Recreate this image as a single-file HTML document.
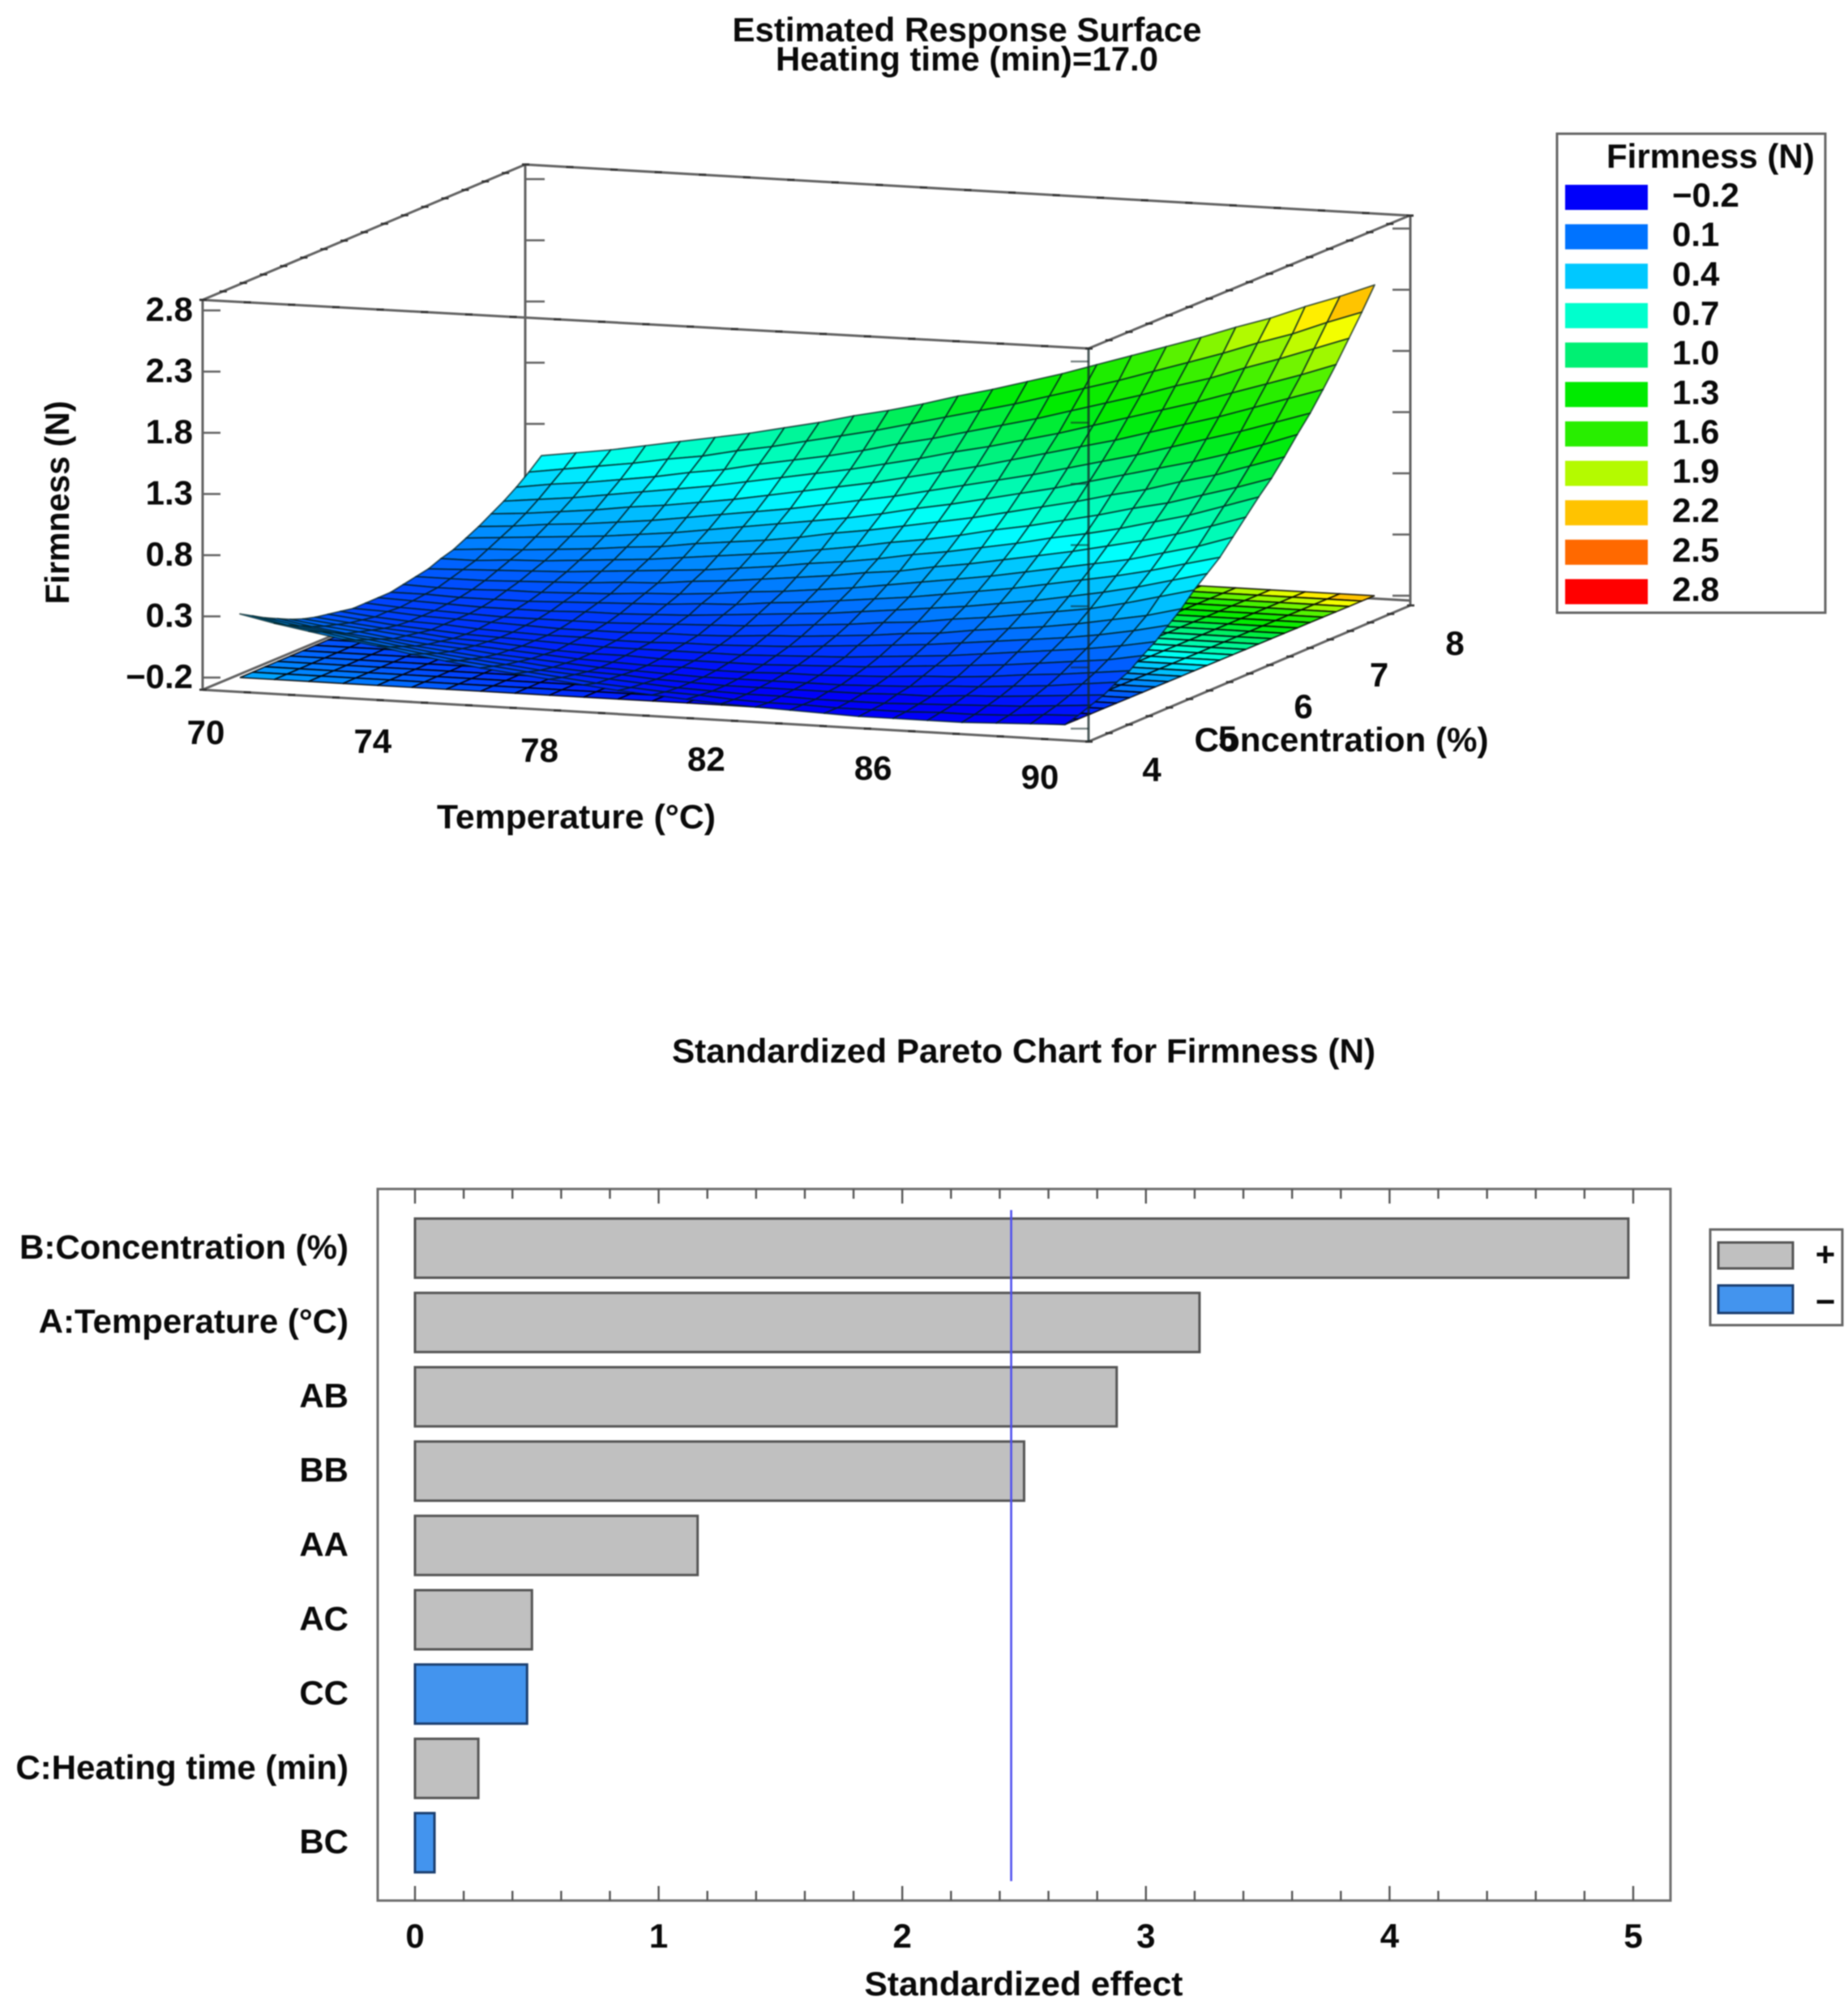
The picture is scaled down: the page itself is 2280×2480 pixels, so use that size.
<!DOCTYPE html>
<html lang="en">
<head>
<meta charset="utf-8">
<title>Estimated Response Surface and Standardized Pareto Chart</title>
<style>
html,body{margin:0;padding:0;background:#fff;width:2280px;height:2480px;overflow:hidden}
svg{display:block;filter:blur(0.7px)}
text{font-family:"Liberation Sans",Arial,sans-serif;font-weight:bold;font-size:42px;fill:#0a0a0a}
</style>
</head>
<body>
<svg id="figure" xmlns="http://www.w3.org/2000/svg" width="2280" height="2480" viewBox="0 0 2280 2480">
  <rect x="0" y="0" width="2280" height="2480" fill="#fff"/>
  <g id="surface-chart">
    <text x="1193" y="51" text-anchor="middle" textLength="579" lengthAdjust="spacingAndGlyphs">Estimated Response Surface</text>
    <text x="1193" y="87" text-anchor="middle" textLength="472" lengthAdjust="spacingAndGlyphs">Heating time (min)=17.0</text>
    <g id="box-back"></g>
    <g id="floor"></g>
    <g id="surface"></g>
    <g id="box-front"></g>
    <g id="axis-labels"></g>
    <text transform="translate(85,620) rotate(-90)" text-anchor="middle" textLength="251" lengthAdjust="spacingAndGlyphs">Firmness (N)</text>
    <text x="711" y="1022" text-anchor="middle" textLength="344" lengthAdjust="spacingAndGlyphs">Temperature (°C)</text>
    <text x="1655" y="927" text-anchor="middle" textLength="363" lengthAdjust="spacingAndGlyphs">Concentration (%)</text>
    <g id="surface-legend">
      <rect x="1921" y="165" width="331" height="591" fill="#fff" stroke="#666" stroke-width="3"/>
      <text x="1982" y="207">Firmness (N)</text>
    </g>
  </g>
  <g id="pareto-chart">
    <text x="1263" y="1311" text-anchor="middle" textLength="868" lengthAdjust="spacingAndGlyphs">Standardized Pareto Chart for Firmness (N)</text>
    <rect x="466" y="1467" width="1595" height="878" fill="#fff" stroke="#6e6e6e" stroke-width="3"/>
    <g id="pareto-ticks"></g>
    <g id="pareto-bars"></g>
    <g id="pareto-labels"></g>
    <text x="1263" y="2462" text-anchor="middle" textLength="393" lengthAdjust="spacingAndGlyphs">Standardized effect</text>
    <g>
      <rect x="2110" y="1517" width="163" height="118" fill="#fff" stroke="#666" stroke-width="3"/>
      <rect x="2120" y="1533" width="92" height="32" fill="#c0c0c0" stroke="#555" stroke-width="3"/>
      <text x="2252" y="1562" text-anchor="middle">+</text>
      <rect x="2120" y="1586" width="92" height="34" fill="#4394ee" stroke="#1c3f70" stroke-width="3"/>
      <text x="2252" y="1620" text-anchor="middle">−</text>
    </g>
  </g>
</svg>
<script>
// ---- Response surface data: firmness at each node, rows = concentration 4..8, columns = temperature 70..90
const surfaceZ = [
[.32,.26,.21,.16,.12,.07,.03,-.01,-.04,-.07,-.10,-.13,-.15,-.17,-.19,-.20,-.21,-.22,-.23,-.23,-.23,-.23,-.22,-.21,-.20],
[.26,.20,.16,.11,.07,.03,-.01,-.04,-.07,-.10,-.13,-.15,-.17,-.18,-.20,-.21,-.21,-.22,-.22,-.22,-.21,-.21,-.20,-.18,-.17],
[.20,.15,.11,.07,.03,-.01,-.04,-.07,-.10,-.12,-.14,-.16,-.18,-.19,-.20,-.20,-.21,-.21,-.21,-.20,-.19,-.18,-.17,-.15,-.13],
[.15,.10,.06,.03,-.01,-.04,-.07,-.09,-.12,-.14,-.15,-.17,-.18,-.19,-.19,-.19,-.19,-.19,-.18,-.18,-.16,-.15,-.13,-.11,-.09],
[.10,.06,.03,-.01,-.04,-.06,-.09,-.11,-.13,-.15,-.16,-.17,-.18,-.18,-.18,-.18,-.18,-.17,-.16,-.14,-.13,-.11,-.09,-.06,-.03],
[.06,.03,.00,-.03,-.06,-.08,-.10,-.12,-.14,-.15,-.16,-.16,-.17,-.17,-.16,-.16,-.15,-.14,-.12,-.11,-.09,-.06,-.04,-.01,.02],
[.03,.00,-.03,-.05,-.08,-.09,-.11,-.13,-.14,-.14,-.15,-.15,-.15,-.15,-.14,-.13,-.12,-.10,-.08,-.06,-.04,-.01,.02,.05,.10],
[.01,-.02,-.05,-.07,-.09,-.10,-.11,-.12,-.13,-.13,-.13,-.13,-.13,-.12,-.11,-.10,-.08,-.06,-.04,-.01,.02,.05,.08,.12,.17],
[-.01,-.04,-.06,-.07,-.09,-.10,-.11,-.11,-.12,-.12,-.11,-.11,-.10,-.09,-.07,-.05,-.03,-.01,.02,.05,.08,.11,.15,.20,.26],
[-.03,-.04,-.06,-.07,-.08,-.09,-.10,-.10,-.10,-.09,-.09,-.08,-.06,-.05,-.03,-.01,.02,.04,.08,.11,.14,.18,.23,.28,.35],
[-.03,-.05,-.06,-.07,-.08,-.08,-.08,-.08,-.07,-.06,-.05,-.04,-.02,.00,.02,.05,.07,.11,.14,.18,.22,.26,.32,.39,.46],
[-.03,-.04,-.05,-.06,-.06,-.06,-.05,-.05,-.04,-.03,-.01,.01,.03,.05,.08,.11,.14,.17,.21,.25,.30,.35,.41,.48,.55],
[-.03,-.03,-.04,-.04,-.04,-.03,-.02,-.01,.00,.02,.03,.06,.08,.11,.14,.17,.21,.25,.29,.34,.39,.44,.50,.57,.64],
[-.01,-.02,-.02,-.01,-.01,.00,.01,.03,.04,.06,.09,.11,.14,.17,.21,.25,.29,.33,.38,.43,.48,.53,.60,.67,.76],
[.01,.01,.01,.02,.03,.04,.06,.07,.10,.12,.15,.18,.21,.25,.28,.33,.37,.42,.47,.52,.58,.64,.71,.79,.88],
[.03,.04,.05,.06,.07,.09,.11,.13,.15,.18,.21,.25,.28,.32,.37,.41,.46,.51,.57,.62,.68,.75,.82,.91,1.00],
[.07,.07,.09,.10,.12,.14,.16,.19,.22,.25,.28,.32,.36,.41,.45,.50,.56,.61,.67,.73,.80,.86,.94,1.02,1.11],
[.10,.12,.13,.15,.17,.20,.22,.26,.29,.32,.36,.41,.45,.50,.55,.60,.66,.72,.78,.85,.91,.99,1.06,1.15,1.24],
[.15,.17,.19,.21,.23,.26,.29,.33,.37,.41,.45,.49,.54,.60,.65,.71,.77,.83,.90,.97,1.04,1.11,1.19,1.28,1.38],
[.20,.22,.25,.27,.30,.33,.37,.41,.45,.49,.54,.59,.64,.70,.76,.82,.88,.95,1.02,1.09,1.17,1.25,1.33,1.42,1.51],
[.26,.28,.31,.34,.38,.41,.45,.49,.54,.59,.64,.69,.75,.81,.87,.94,1.01,1.08,1.15,1.23,1.31,1.39,1.48,1.57,1.66],
[.32,.35,.38,.42,.46,.50,.54,.59,.64,.69,.74,.80,.86,.93,.99,1.06,1.13,1.21,1.29,1.37,1.45,1.54,1.63,1.72,1.82],
[.39,.43,.46,.50,.54,.59,.63,.69,.74,.79,.85,.92,.98,1.05,1.12,1.19,1.27,1.35,1.43,1.52,1.60,1.70,1.79,1.89,1.99],
[.47,.51,.55,.59,.64,.68,.74,.79,.85,.91,.97,1.04,1.11,1.18,1.25,1.33,1.41,1.49,1.58,1.67,1.76,1.86,1.95,2.06,2.16],
[.56,.60,.64,.69,.74,.79,.84,.90,.96,1.03,1.09,1.16,1.24,1.31,1.39,1.47,1.56,1.65,1.74,1.83,1.93,2.02,2.13,2.23,2.34]
];
const zTicks = [-0.2, 0.3, 0.8, 1.3, 1.8, 2.3, 2.8];
const tempTicks = [70, 74, 78, 82, 86, 90];
const concTicks = [4, 5, 6, 7, 8];
const legendLevels = [-0.2, 0.1, 0.4, 0.7, 1.0, 1.3, 1.6, 1.9, 2.2, 2.5, 2.8];

// ---- Pareto data
const categories = ["B:Concentration (%)", "A:Temperature (°C)", "AB", "BB", "AA", "AC", "CC", "C:Heating time (min)", "BC"];
const effects = [4.98, 3.22, 2.88, 2.50, 1.16, 0.48, 0.46, 0.26, 0.08];
const signs = ["+", "+", "+", "+", "+", "+", "-", "+", "-"];
const paretoTicks = [0, 1, 2, 3, 4, 5];
const significance = 2.447;

const NS = 'http://www.w3.org/2000/svg';
function make(tag, parent, attrs, txt) {
  const e = document.createElementNS(NS, tag);
  for (const k in attrs) e.setAttribute(k, attrs[k]);
  if (txt !== undefined) e.textContent = txt;
  parent.appendChild(e);
  return e;
}
function $(id) { return document.getElementById(id); }

// ---- 3D axis functions
const NL = [296, 836], FL = [668, 677], NR = [1314, 894], FR = [1696, 735];
const Z_BASE = -0.2, Z_PX = 151;
function project(t, c, z) {
  const x = (1-t)*(1-c)*NL[0] + t*(1-c)*NR[0] + (1-t)*c*FL[0] + t*c*FR[0];
  const y = (1-t)*(1-c)*NL[1] + t*(1-c)*NR[1] + (1-t)*c*FL[1] + t*c*FR[1];
  return [x, y - (z - Z_BASE) * Z_PX];
}
const zLabelY = v => 849 - (v - Z_BASE) * Z_PX;
const zTickY = v => 836 - (v - Z_BASE) * Z_PX;
const tempLabelX = v => 254 + (v - 70) / 20 * 1029;
const tempLabelY = v => 918 + (v - 70) / 20 * 55;
const concLabelX = v => 1421 + (v - 4) * 93.5;
const concLabelY = v => 964 - (v - 4) * 39;

const colorRamp = [
  [-0.25,0,0,250],[-0.2,0,0,250],[-0.1,0,45,255],[0.1,0,115,255],[0.25,0,160,255],[0.4,0,200,255],[0.55,0,255,255],[0.7,0,255,205],
  [1.0,0,240,115],[1.3,0,235,0],[1.6,40,238,0],[1.9,180,250,0],[2.05,255,255,0],[2.2,255,195,0],[2.5,255,105,0],[2.8,255,0,0]
];
function colorOf(v) {
  for (let k = 1; k < colorRamp.length; k++) {
    if (v <= colorRamp[k][0]) {
      const a = colorRamp[k-1], b = colorRamp[k], f = (v - a[0]) / (b[0] - a[0]);
      return 'rgb(' + [1,2,3].map(n => Math.round(a[n] + (b[n]-a[n]) * Math.max(0,f))).join(',') + ')';
    }
  }
  return 'rgb(255,0,0)';
}

// ---- Box edges and ticks
const GRAY = '#626262';
const backEdges = [
  [250,370,648,203],[648,203,1739,266],[1343,430,1739,266],[250,370,1343,430],
  [648,203,648,685],[1740,266,1740,747],[250,370,250,851],[250,851,1343,915],
  [1343,915,1740,747],[250,851,648,685],[648,680,1740,741]
];
backEdges.forEach(a => {
  const l = make('line', $('box-back'), {x1:a[0],y1:a[1],x2:a[2],y2:a[3],stroke:GRAY,'stroke-width':3});
  
  
});
function edgeTicks(x1, y1, x2, y2, n, parent) {
  for (let k = 0; k <= n; k++) {
    const f = k / n, x = x1 + (x2-x1)*f, y = y1 + (y2-y1)*f;
    const t = make('line', parent, {x1:x-4,y1:y,x2:x+5,y2:y,stroke:'#333','stroke-width':2.6});
    
    
  }
}
edgeTicks(250,370,1343,430,20,$('box-back'));
edgeTicks(648,203,1739,266,20,$('box-back'));
edgeTicks(250,370,648,203,16,$('box-back'));
edgeTicks(1343,430,1739,266,16,$('box-back'));
edgeTicks(250,851,1343,915,20,$('box-back'));
edgeTicks(1343,915,1740,747,16,$('box-back'));
zTicks.forEach(v => {
  const y = zTickY(v);
  const a = make('line', $('box-back'), {x1:250,y1:y,x2:272,y2:y,stroke:GRAY,'stroke-width':2.4});
  
  
  const b = make('line', $('box-back'), {x1:648,y1:y-162,x2:672,y2:y-162,stroke:GRAY,'stroke-width':2.4});
  
  
  const c = make('line', $('box-back'), {x1:1718,y1:y-101,x2:1740,y2:y-101,stroke:GRAY,'stroke-width':2.4});
  
  
});

// ---- Floor contour and surface mesh
const rows = surfaceZ.length - 1, cols = surfaceZ[0].length - 1;
function cellMean(i, j) {
  return (surfaceZ[j][i] + surfaceZ[j][i+1] + surfaceZ[j+1][i] + surfaceZ[j+1][i+1]) / 4;
}
for (let j = rows - 1; j >= 0; j--) {
  for (let i = 0; i < cols; i++) {
    const pts = [[i,j],[i+1,j],[i+1,j+1],[i,j+1]].map(n => project(n[0]/cols, n[1]/rows, Z_BASE).map(q => q.toFixed(1)).join(',')).join(' ');
    const cell = make('polygon', $('floor'), {points:pts, fill:colorOf(cellMean(i,j)), stroke:'rgba(0,0,0,.8)', 'stroke-width':1.8});
    
    
  }
}
for (let j = rows - 1; j >= 0; j--) {
  for (let i = 0; i < cols; i++) {
    const pts = [[i,j],[i+1,j],[i+1,j+1],[i,j+1]].map(n => project(n[0]/cols, n[1]/rows, surfaceZ[n[1]][n[0]]).map(q => q.toFixed(1)).join(',')).join(' ');
    const cell = make('polygon', $('surface'), {points:pts, fill:colorOf(cellMean(i,j)), stroke:'rgba(0,30,30,.72)', 'stroke-width':1.8, 'stroke-linejoin':'round'});
    
    
  }
}

// ---- Front vertical edge over the surface
const frontEdge = make('line', $('box-front'), {x1:1343,y1:430,x2:1343,y2:915,stroke:'rgba(20,40,40,.75)','stroke-width':3});


zTicks.forEach(v => {
  const y = zTickY(v) + 63;
  const t = make('line', $('box-front'), {x1:1321,y1:y,x2:1343,y2:y,stroke:'rgba(20,40,40,.6)','stroke-width':2.2});
  
  
});

// ---- Axis tick labels
zTicks.forEach(v => {
  const s = (v < 0 ? '−' : '') + Math.abs(v).toFixed(1);
  const t = make('text', $('axis-labels'), {x:238, y:zLabelY(v), 'text-anchor':'end'}, s);
  
  
});
tempTicks.forEach(v => {
  const t = make('text', $('axis-labels'), {x:tempLabelX(v), y:tempLabelY(v), 'text-anchor':'middle'}, String(v));
  
  
});
concTicks.forEach(v => {
  const t = make('text', $('axis-labels'), {x:concLabelX(v), y:concLabelY(v), 'text-anchor':'middle'}, String(v));
  
  
});

// ---- Surface legend
legendLevels.forEach((v, k) => {
  const y = 228 + k * 48.65;
  const s = make('rect', $('surface-legend'), {x:1931, y:y, width:102, height:31, fill:colorOf(v)});
  
  
  const t = make('text', $('surface-legend'), {x:2063, y:y + 27}, (v < 0 ? '−' : '') + Math.abs(v).toFixed(1));
  
  
});

// ---- Pareto chart
const xScale = v => 512 + v * 300.6;
const bandCenter = k => 1540 + k * 91.7;
const BAR_H = 73;
const PT = 1467, PB = 2345;
for (let m = 0; m <= 25; m++) {
  const v = m / 5, x = xScale(v), len = m % 5 === 0 ? 18 : 12;
  const a = make('line', $('pareto-ticks'), {x1:x,y1:PT,x2:x,y2:PT+len,stroke:'#555','stroke-width':2.4});
  
  
  const b = make('line', $('pareto-ticks'), {x1:x,y1:PB,x2:x,y2:PB-len,stroke:'#555','stroke-width':2.4});
  
  
}
categories.forEach((name, k) => {
  const neg = signs[k] === '-';
  const r = make('rect', $('pareto-bars'), {x:xScale(0), y:bandCenter(k) - BAR_H/2, width:xScale(effects[k]) - xScale(0), height:BAR_H, fill:neg ? '#4394ee' : '#c0c0c0', stroke:neg ? '#1c3f70' : '#555', 'stroke-width':3});
  
  
  const t = make('text', $('pareto-labels'), {x:430, y:bandCenter(k) + 13, 'text-anchor':'end'}, name);
  
  
});
const sig = make('line', $('pareto-bars'), {x1:xScale(significance), y1:1493, x2:xScale(significance), y2:2321, stroke:'#5050ee', 'stroke-width':2.6});


paretoTicks.forEach(v => {
  const t = make('text', $('pareto-labels'), {x:xScale(v), y:2403, 'text-anchor':'middle'}, String(v));
  
  
});
</script>
</body>
</html>
